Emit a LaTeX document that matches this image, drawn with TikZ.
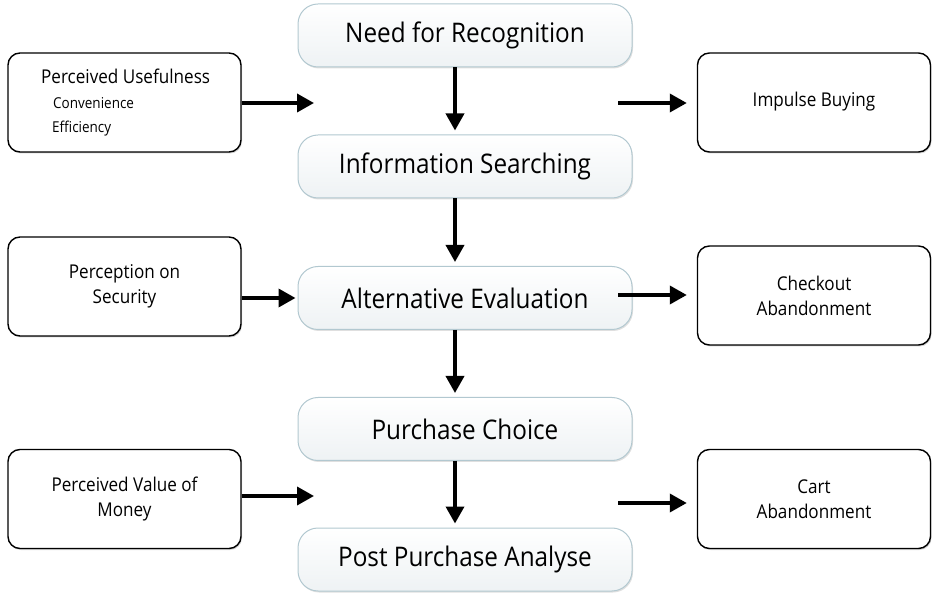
\documentclass[tikz,border=0pt]{standalone}
\usepackage{fontspec}
\setmainfont{Open Sans}[FakeStretch=0.9]
\usetikzlibrary{arrows.meta,shadows,calc}
\definecolor{stageedge}{RGB}{178,200,208}
\definecolor{stagelow}{RGB}{238,242,244}
\tikzset{
  stage/.style={rounded corners=20pt, draw=stageedge, line width=1pt,
    top color=white, bottom color=stagelow,
    drop shadow={opacity=0.25, shadow xshift=1pt, shadow yshift=-1.5pt},
    minimum width=334pt, minimum height=63pt, inner sep=0pt,
    font=\fontsize{27}{30}\selectfont, align=center},
  factor/.style={rounded corners=12pt, draw=black, line width=1.4pt, fill=white,
    drop shadow={opacity=0.35, shadow xshift=1pt, shadow yshift=-1.5pt},
    minimum width=233pt, minimum height=99pt, inner sep=0pt,
    font=\fontsize{19}{25}\selectfont, align=center},
  flow/.style={line width=3.6pt, -{Triangle[length=17pt,width=18pt]}},
}
\begin{document}
\begin{tikzpicture}[x=1pt,y=-1pt]
\useasboundingbox (0,0) rectangle (932,593);

% central decision stages
\node[stage] (need) at (465,35.5) {Need for Recognition};
\node[stage] (info) at (465,166.5) {Information Searching};
\node[stage] (alt)  at (465,298) {Alternative Evaluation};
\node[stage] (pc)   at (465,429) {Purchase Choice};
\node[stage] (ppa)  at (465,559.5) {Post Purchase Analyse};

% influencing factors (left)
\node[factor] (pu)  at (124.5,102.5) {};
\node[anchor=west, inner sep=0pt, font=\fontsize{19}{22}\selectfont] (putitle) at (41,76) {Perceived Usefulness};
\node[anchor=west, inner sep=0pt, font=\fontsize{15}{18}\selectfont] (conv) at (53,103) {Convenience};
\node[anchor=west, inner sep=0pt, font=\fontsize{15}{18}\selectfont] (eff)  at (52,129) {Efficiency};
\node[factor] (sec) at (124.5,286.5) {Perception on\\Security};
\node[factor] (val) at (124.5,499) {Perceived Value of\\Money};

% outcomes (right)
\node[factor, text depth=6pt] (ib)  at (814,102.5) {Impulse Buying};
\node[factor] (ca)  at (814,295.5) {Checkout\\Abandonment};
\node[factor] (cart) at (814,499) {Cart\\Abandonment};

% free arrow ends between the stages
\coordinate (puend)   at (314,103);
\coordinate (valend)  at (314,496);
\coordinate (ibstart) at (618,103);
\coordinate (castart) at (618,295);
\coordinate (cartstart) at (618,503);

% stage-to-stage arrows
\foreach \a/\b in {need/info, info/alt, alt/pc, pc/ppa}
  \draw[flow, shorten >=4pt] ($(\a.south)+(-10,0)$) -- ($(\b.north)+(-10,0)$);

% factor arrows
\draw[flow] (pu.east |- puend) -- (puend);
\draw[flow, shorten >=2pt] (sec.east |- alt.west) -- (alt.west);
\draw[flow] (val.east |- valend) -- (valend);
\draw[flow, shorten >=10pt] (ibstart) -- (ib.west |- ibstart);
\draw[flow, shorten >=10pt] (castart) -- (ca.west |- castart);
\draw[flow, shorten >=10pt] (cartstart) -- (cart.west |- cartstart);
\end{tikzpicture}
\end{document}
